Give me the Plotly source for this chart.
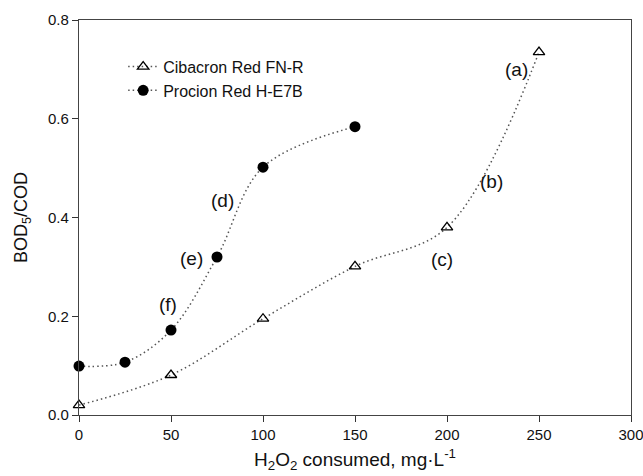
import plotly.graph_objects as go

h2o2_cib = [0, 50, 100, 150, 200, 250]
bod_cib = [0.020, 0.081, 0.195, 0.301, 0.380, 0.735]
h2o2_pro = [0, 25, 50, 75, 100, 150]
bod_pro = [0.099, 0.107, 0.172, 0.320, 0.502, 0.584]

label_text = ["(a)", "(b)", "(c)", "(d)", "(e)", "(f)"]
label_x = [238, 224, 197.5, 78.2, 61.3, 48.6]
label_y = [0.700, 0.472, 0.314, 0.435, 0.317, 0.223]

font_family = "Liberation Sans, Arial, sans-serif"
line_style = dict(color="#555555", width=1.5, dash="1.5px,3px", shape="spline", smoothing=1.0)

fig = go.Figure()
fig.add_trace(go.Scatter(
    x=h2o2_cib, y=bod_cib, mode="lines+markers", name="Cibacron Red FN-R",
    line=line_style,
    marker=dict(symbol="triangle-up-open", size=10, color="black", line=dict(width=1.3, color="black")),
    cliponaxis=False,
))
fig.add_trace(go.Scatter(
    x=h2o2_pro, y=bod_pro, mode="lines+markers", name="Procion Red H-E7B",
    line=line_style,
    marker=dict(symbol="circle", size=11, color="black"),
    cliponaxis=False,
))

for t, x, y in zip(label_text, label_x, label_y):
    fig.add_annotation(x=x, y=y, text=t, showarrow=False,
                       font=dict(size=19, color="#111111", family=font_family))

fig.update_layout(
    width=643, height=476,
    margin=dict(l=79, r=12, t=20, b=61, autoexpand=False),
    paper_bgcolor="white", plot_bgcolor="white",
    font=dict(family=font_family, size=15, color="#111111"),
    showlegend=True,
    legend=dict(x=0.08, y=0.925, xanchor="left", yanchor="top",
                bgcolor="rgba(0,0,0,0)", font=dict(size=16),
                tracegroupgap=0, itemsizing="trace"),
)
fig.update_xaxes(
    range=[0, 300], tickvals=[0, 50, 100, 150, 200, 250, 300],
    ticks="outside", ticklen=6, tickwidth=1, tickcolor="#333",
    ticklabeloverflow="allow",
    showline=True, linecolor="#444", linewidth=1.2, mirror=True,
    showgrid=False, zeroline=False,
    title=dict(text="H<sub>2</sub>O<sub>2</sub> consumed, mg·L<sup>-1</sup>", font=dict(size=19), standoff=10),
)
fig.update_yaxes(
    range=[0, 0.8], tickvals=[0, 0.2, 0.4, 0.6, 0.8], tickformat=".1f",
    ticks="outside", ticklen=6, tickwidth=1, tickcolor="#333",
    showline=True, linecolor="#444", linewidth=1.2, mirror=True,
    showgrid=False, zeroline=False,
    title=dict(text="BOD<sub>5</sub>/COD", font=dict(size=18), standoff=15),
)

fig.write_html("out.html",
               config={"displayModeBar": False},
               post_script="document.body.style.margin='0px';document.body.style.overflow='hidden';")
